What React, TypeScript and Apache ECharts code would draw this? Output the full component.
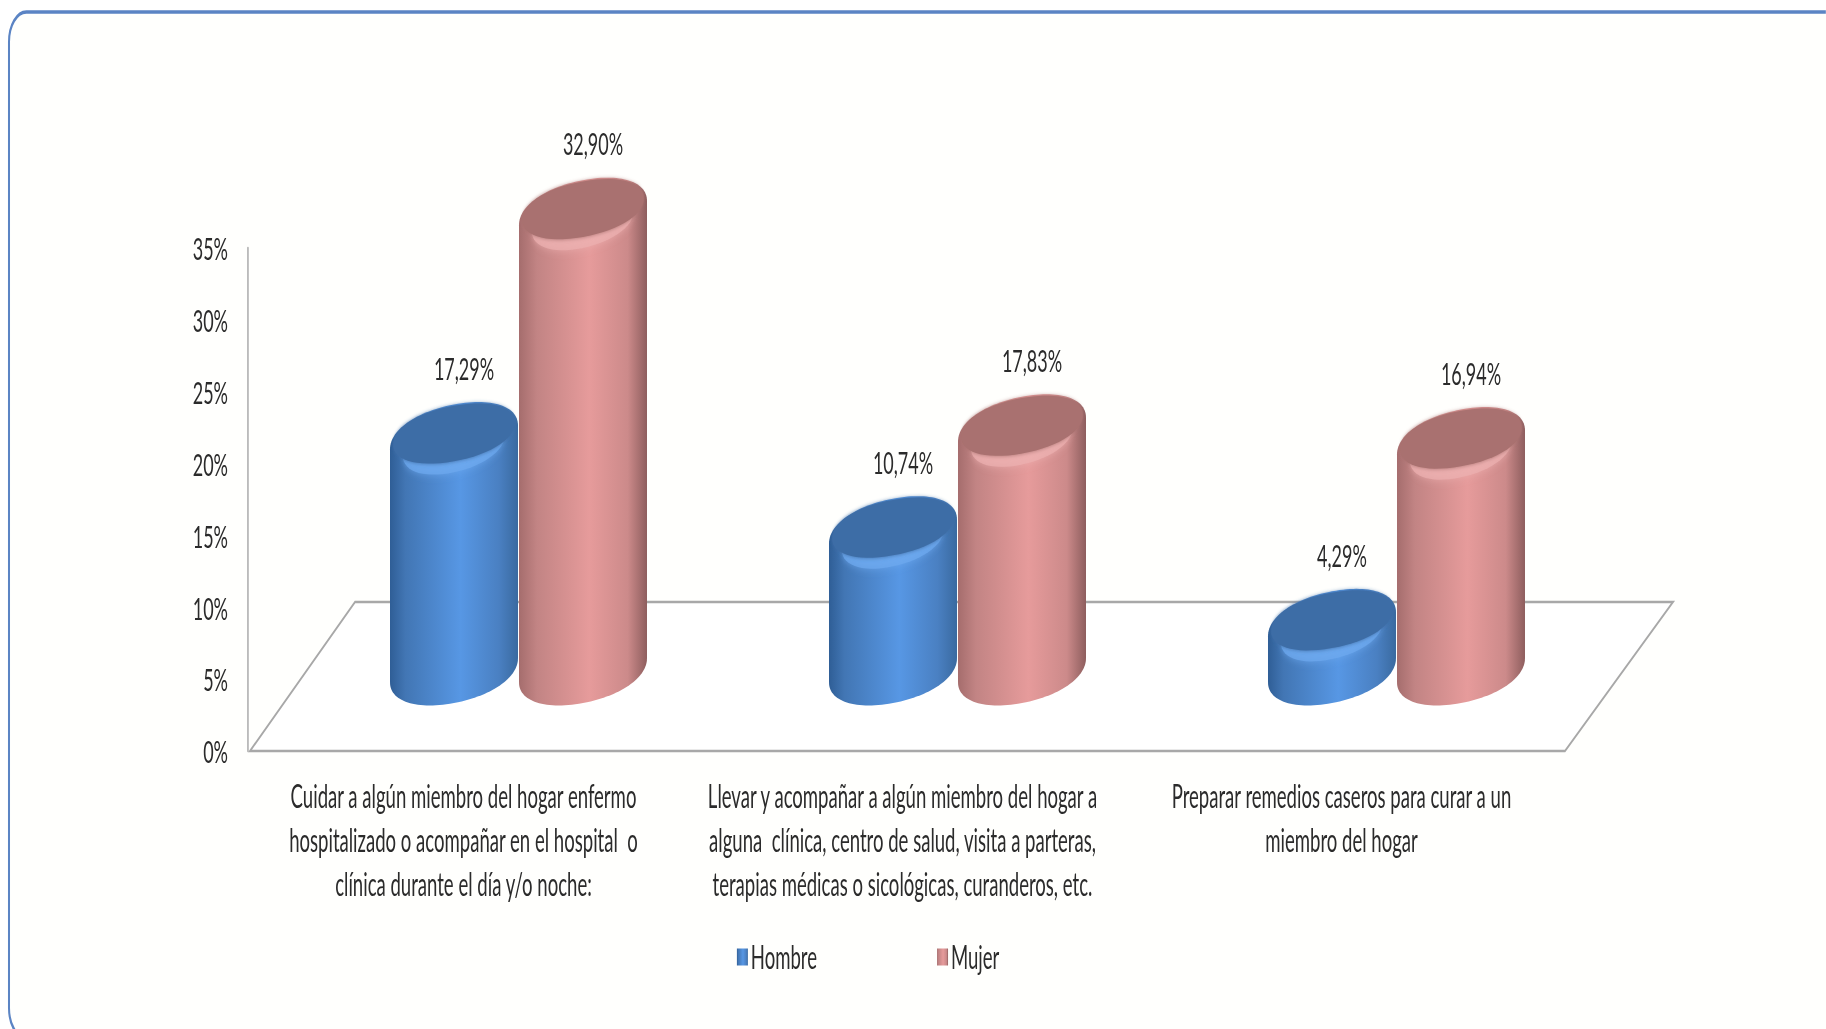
import React, { useEffect, useRef } from "react";
import * as echarts from "echarts";

const categories = [
  "Cuidar a algún miembro del hogar enfermo\nhospitalizado o acompañar en el hospital  o\nclínica durante el día y/o noche:",
  "Llevar y acompañar a algún miembro del hogar a\nalguna  clínica, centro de salud, visita a parteras,\nterapias médicas o sicológicas, curanderos, etc.",
  "Preparar remedios caseros para curar a un\nmiembro del hogar",
];
const hombre = [17.29, 10.74, 4.29];
const mujer = [32.9, 17.83, 16.94];

// The reference is a horizontally squeezed picture: the chart is drawn wide and squeezed the same way.
const S = 0.58;
const W = 1826;
const H = 1029;
const sx = (px: number) => px / S;
const FONT = "Lato, 'Open Sans', sans-serif";
const TEXT = "#2b2b2b";

const blueBody = [
  [0, "#2f5e96"], [0.12, "#4276b4"], [0.55, "#5797e4"], [0.85, "#4a80c2"], [1, "#3a6aa0"],
];
const redBody = [
  [0, "#a56d6d"], [0.14, "#c28484"], [0.55, "#e69b9b"], [0.85, "#cc8a8a"], [1, "#8e5e5e"],
];
const grad = (stops: any[], x2: number, y2: number) =>
  new echarts.graphic.LinearGradient(0, 0, x2, y2, stops.map(([offset, color]) => ({ offset, color })));

const spow = (v: number, p: number) => Math.sign(v) * Math.pow(Math.abs(v), p);

function ellipsePts(cx: number, cy: number, a: number, b: number, k: number, from: number, to: number) {
  const pts: number[][] = [];
  const n = 60;
  const p = 0.94;
  for (let i = 0; i <= n; i++) {
    const t = from + ((to - from) * i) / n;
    const c = spow(Math.cos(t), p);
    const s = spow(Math.sin(t), p);
    pts.push([cx + sx(a * c), cy + b * s + k * c]);
  }
  return pts;
}

function cylinderSeries(name: string, values: number[], dx: number, body: any[], cap: string, light: string) {
  return {
    type: "custom",
    name,
    data: values.map((v, i) => [i, v]),
    encode: { x: 0, y: 1 },
    itemStyle: { color: body[2][1] },
    clip: false,
    renderItem: (_params: any, api: any) => {
      const cat = api.value(0);
      const val = api.value(1);
      const [x, yTop] = api.coord([cat, val]);
      const [, yZero] = api.coord([cat, 0]);
      const cx = x + sx(dx);
      const top = yTop - 65;
      const base = yZero - 81;
      const a = 64, b = 33, k = -12;
      const bodyPts = [
        ...ellipsePts(cx, top, a, b, k, Math.PI, 2 * Math.PI),
        ...ellipsePts(cx, base, a, b, k, 0, Math.PI),
      ];
      const label = val.toFixed(2).replace(".", ",") + "%";
      return {
        type: "group",
        children: [
          { type: "polygon", shape: { points: bodyPts }, style: { fill: grad(body, 1, 0) } },
          {
            type: "polygon",
            shape: { points: ellipsePts(cx, top + 7, a * 0.8, b * 0.84, k * 0.9, 0, 2 * Math.PI) },
            style: { fill: light, opacity: 0.7, shadowBlur: 8, shadowColor: light },
          },
          {
            type: "polygon",
            shape: { points: ellipsePts(cx, top - 4, a * 0.95, b * 0.84, k * 0.9, 0, 2 * Math.PI) },
            style: { fill: cap, shadowBlur: 4, shadowColor: cap },
          },
          {
            type: "text",
            style: {
              text: label,
              x: cx + sx(10),
              y: top - 70,
              align: "center",
              verticalAlign: "middle",
              fontFamily: FONT,
              fontSize: 31,
              fill: TEXT,
            },
          },
        ],
      };
    },
  };
}

export default function App() {
  const ref = useRef<HTMLDivElement>(null);
  useEffect(() => {
    const chart = echarts.init(ref.current!, undefined, { renderer: "svg" });
    const strokeGray = "#a8a8a8";
    chart.setOption({
      animation: false,
      backgroundColor: "#ffffff",
      grid: { left: sx(244), width: sx(1317), top: 248, height: 503, containLabel: false },
      graphic: [
        {
          type: "rect",
          shape: { x: sx(9), y: 12, width: sx(W + 60), height: 1026, r: 30 },
          style: { fill: "#fffffd", stroke: "#5b84c4", lineWidth: 3.5 },
        },
        {
          type: "polygon",
          shape: {
            points: [
              [sx(250), 751],
              [sx(355), 602],
              [sx(1673), 602],
              [sx(1565), 751],
            ],
          },
          style: { fill: "#ffffff", stroke: strokeGray, lineWidth: 2.5 },
        },
      ],
      legend: {
        left: sx(734),
        top: 936,
        itemWidth: sx(11),
        itemHeight: 17,
        itemGap: sx(120),
        textStyle: { fontFamily: FONT, fontSize: 32, color: TEXT, padding: [0, 0, 0, 0] },
        data: [
          { name: "Hombre", icon: "rect", itemStyle: { color: grad(blueBody, 1, 0) } },
          { name: "Mujer", icon: "rect", itemStyle: { color: grad(redBody, 1, 0) } },
        ],
      },
      xAxis: {
        type: "category",
        data: categories,
        axisLine: { show: false },
        axisTick: { show: false },
        axisLabel: {
          interval: 0,
          margin: 23,
          fontFamily: FONT,
          fontSize: 32,
          lineHeight: 44,
          color: TEXT,
          align: "center",
          verticalAlign: "top",
        },
      },
      yAxis: {
        type: "value",
        min: 0,
        max: 35,
        interval: 5,
        offset: -sx(4),
        splitLine: { show: false },
        axisTick: { show: false },
        axisLine: { show: true, lineStyle: { color: strokeGray, width: 2.5 } },
        axisLabel: {
          margin: sx(20),
          formatter: "{value}%",
          fontFamily: FONT,
          fontSize: 31,
          color: TEXT,
        },
      },
      series: [
        cylinderSeries("Hombre", hombre, -9.5, blueBody, "#3e6da6", "#6eaaf0"),
        cylinderSeries("Mujer", mujer, 119.5, redBody, "#a9716f", "#edb0b0"),
      ],
    });
    return () => chart.dispose();
  }, []);
  return (
    <div style={{ position: "absolute", left: 0, top: 0, width: W, height: H, overflow: "hidden", background: "#fff" }}>
      <div
        ref={ref}
        style={{ width: sx(W), height: H, transform: `scaleX(${S})`, transformOrigin: "0 0" }}
      />
    </div>
  );
}
